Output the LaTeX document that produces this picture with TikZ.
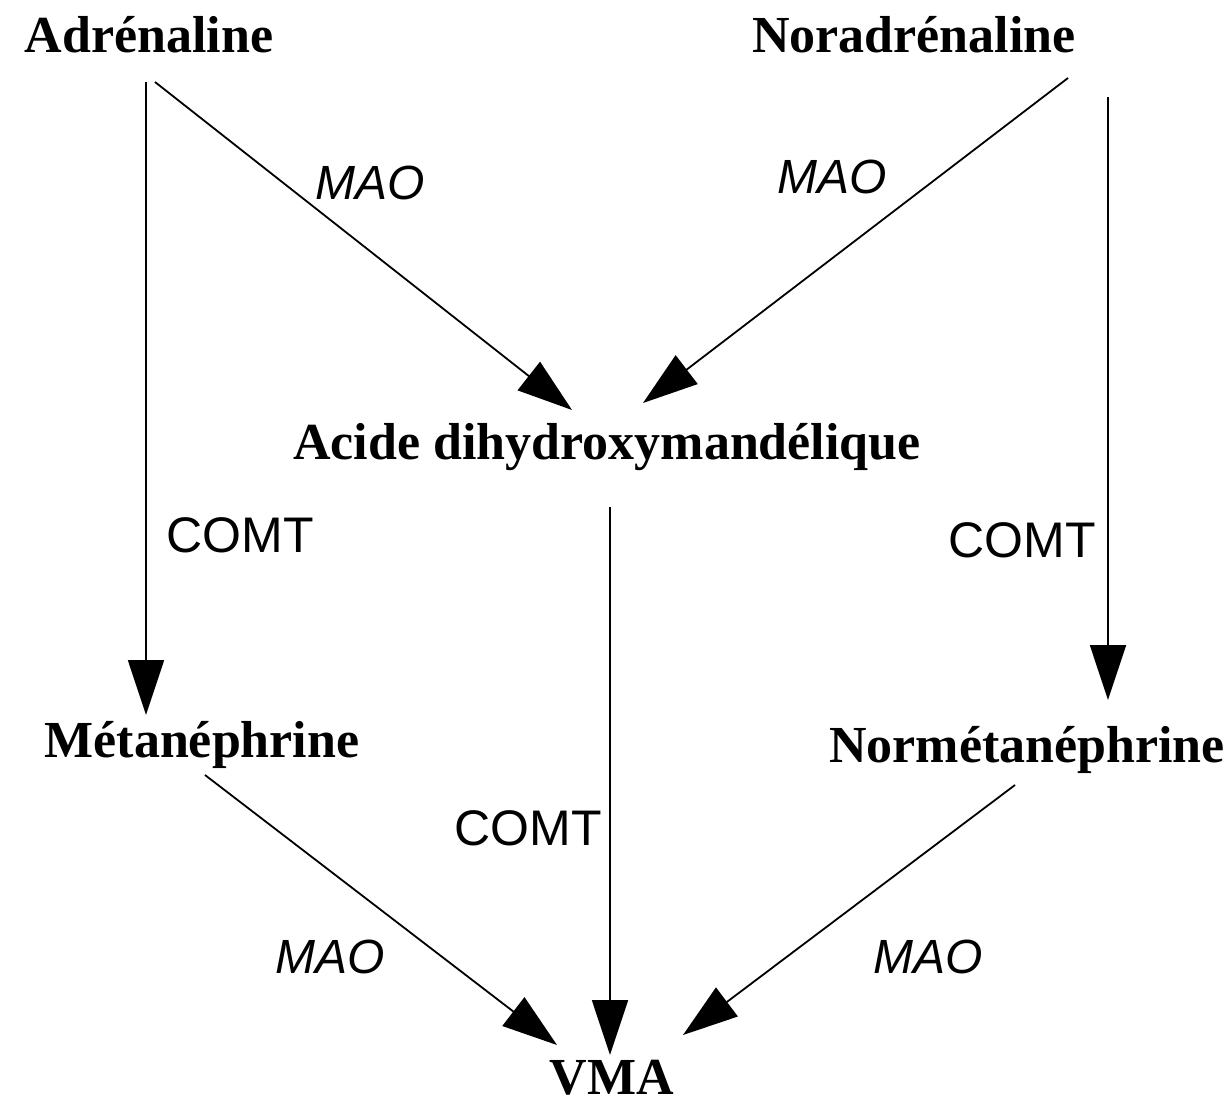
\documentclass[tikz,border=0pt]{standalone}
\usepackage{fontspec}
\setmainfont{Liberation Serif}
\setsansfont{Liberation Sans}
\usetikzlibrary{arrows.meta}
\begin{document}
\begin{tikzpicture}[x=1pt,y=-1pt,
  mol/.style={inner sep=0pt,font=\fontsize{52}{60}\selectfont\bfseries},
  enz/.style={inner sep=0pt,font=\fontsize{50}{60}\selectfont\sffamily},
  mao/.style={inner sep=0pt,font=\fontsize{48}{58}\selectfont\sffamily\itshape},
  conv/.style={line width=1.8pt,-{Triangle[length=55pt,width=36pt]}}]
\useasboundingbox (0,0) rectangle (1227,1109);
\node[mol] (adr) at (149,35) {Adrénaline};
\node[mol] (nor) at (914,35) {Noradrénaline};
\node[mol] (aci) at (607,447) {Acide dihydroxymandélique};
\node[mol] (met) at (202,745) {Métanéphrine};
\node[mol] (nmet) at (1027,750) {Normétanéphrine};
\node[mol] (vma) at (612,1078) {VMA};
\node[mao] (m1) at (370,183) {MAO};
\node[mao] (m2) at (832,177) {MAO};
\node[mao] (m3) at (330,957) {MAO};
\node[mao] (m4) at (928,957) {MAO};
\node[enz] (c1) at (240,535) {COMT};
\node[enz] (c2) at (1022,540) {COMT};
\node[enz] (c3) at (528,828) {COMT};
% connector end points
\coordinate (adrS1) at (146,82);
\coordinate (adrS2) at (155,82);
\coordinate (norS1) at (1068,78);
\coordinate (norS2) at (1108,97);
\coordinate (aciN1) at (572,410);
\coordinate (aciN2) at (643,403);
\coordinate (aciS) at (610,507);
\coordinate (metN) at (146,715);
\coordinate (nmetN) at (1108,700);
\coordinate (metS) at (205,775);
\coordinate (nmetS) at (1015,785);
\coordinate (vmaN1) at (557,1045);
\coordinate (vmaN2) at (610,1055);
\coordinate (vmaN3) at (683,1035);
\draw[conv] (adrS1) -- (metN);
\draw[conv] (adrS2) -- (aciN1);
\draw[conv] (norS1) -- (aciN2);
\draw[conv] (norS2) -- (nmetN);
\draw[conv] (aciS) -- (vmaN2);
\draw[conv] (metS) -- (vmaN1);
\draw[conv] (nmetS) -- (vmaN3);
\end{tikzpicture}
\end{document}
